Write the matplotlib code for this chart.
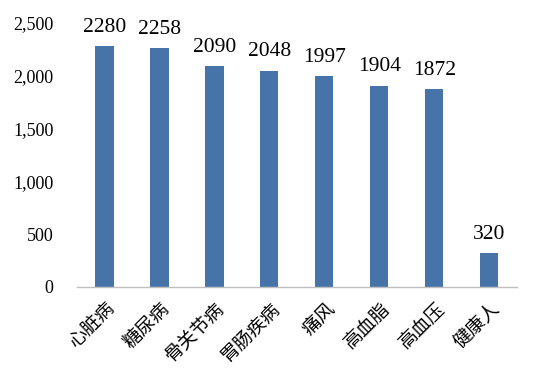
import matplotlib
matplotlib.use("Agg")
import matplotlib.pyplot as plt
from matplotlib.ticker import FuncFormatter

categories = ["心脏病", "糖尿病", "骨关节病", "胃肠疾病", "痛风", "高血脂", "高血压", "健康人"]
values = [2280, 2258, 2090, 2048, 1997, 1904, 1872, 320]
yticks = [0, 500, 1000, 1500, 2000, 2500]

plt.rcParams['font.family'] = ['Liberation Serif', 'Noto Sans CJK SC']

fig = plt.figure(figsize=(5.4, 3.82), dpi=100)
ax = fig.add_axes([0.1426, 0.2487, 0.8144, 0.6913])

x = list(range(len(categories)))
bars = ax.bar(x, values, width=0.33, color="#4674A8", zorder=2)
for xi, v in zip(x, values):
    ax.text(xi, v + 90, str(v), ha='center', va='bottom', fontsize=15.5, color='black')

ax.set_xlim(-0.5, len(categories) - 0.5)
ax.set_ylim(0, 2500)
ax.set_yticks(yticks)
ax.yaxis.set_major_formatter(FuncFormatter(lambda v, p: f"{int(v):,}"))
ax.tick_params(axis='y', length=0, labelsize=13, pad=17)
ax.tick_params(axis='x', length=0, pad=8)
ax.set_xticks(x)
ax.set_xticklabels(categories, rotation=45, ha='right', rotation_mode='anchor',
                   fontsize=13.5, family=['Noto Sans CJK SC'], fontweight='light')
for s in ['top', 'right', 'left']:
    ax.spines[s].set_visible(False)
ax.spines['bottom'].set_color('#BFBFBF')
ax.spines['bottom'].set_linewidth(1)
ax.spines['bottom'].set_linestyle((0, (1, 1)))

fig.savefig("out.png", dpi=100)
